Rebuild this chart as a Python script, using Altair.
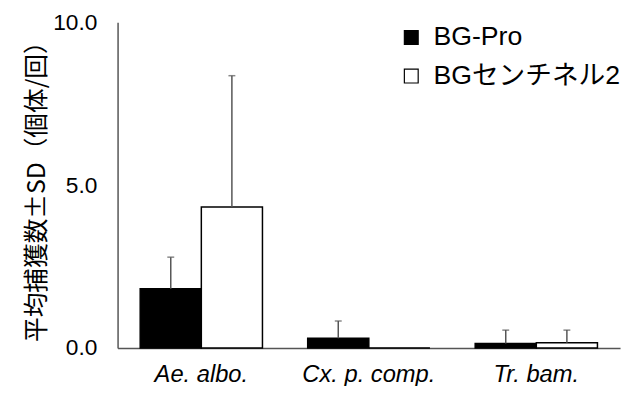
import altair as alt
import pandas as pd

species = ["Ae. albo.", "Cx. p. comp.", "Tr. bam."]
traps = ["BG-Pro", "BGセンチネル2"]
means_pro = [1.82, 0.30, 0.14]
sd_pro = [0.97, 0.53, 0.41]
means_sen = [4.33, 0.0, 0.16]
sd_sen = [4.03, 0.0, 0.39]

rows = []
for i, s in enumerate(species):
    rows.append({"species": s, "trap": traps[0], "mean": means_pro[i], "upper": means_pro[i] + sd_pro[i], "hasErr": sd_pro[i] > 0})
    rows.append({"species": s, "trap": traps[1], "mean": means_sen[i], "upper": means_sen[i] + sd_sen[i], "hasErr": sd_sen[i] > 0})
df = pd.DataFrame(rows)

FONT = "Liberation Sans, Noto Sans CJK JP"

x = alt.X("species:N", sort=species, title=None,
          scale=alt.Scale(paddingInner=0, paddingOuter=0),
          axis=alt.Axis(labelAngle=0, labelFontSize=24, labelFontStyle="italic", labelColor="black",
                        labelFont=FONT, ticks=False, labelPadding=15, domainColor="#555", domainWidth=1.5))
xo = alt.XOffset("trap:N", sort=traps, scale=alt.Scale(paddingOuter=0.37, paddingInner=0))

base = alt.Chart(df)

bars = base.mark_bar(stroke="black", strokeWidth=1.5).encode(
    x=x,
    xOffset=xo,
    y=alt.Y("mean:Q", scale=alt.Scale(domain=[0, 10]), title="平均捕獲数±SD（個体/回）",
            axis=alt.Axis(values=[0, 5, 10], format=".1f", labelFontSize=23, labelColor="black",
                          labelFont=FONT, ticks=False, labelPadding=21, grid=False,
                          domainColor="#555", domainWidth=1.5,
                          titleFont="Noto Sans CJK JP", titleFontSize=25, titleFontWeight="normal",
                          titleColor="black", titlePadding=3)),
    fill=alt.Fill("trap:N", sort=traps, scale=alt.Scale(domain=traps, range=["black", "white"]),
                  legend=alt.Legend(title=None, orient="none", legendX=284, legendY=2,
                                    symbolType="square", symbolSize=196, symbolStrokeColor="black",
                                    symbolStrokeWidth=1.2, labelFontSize=27, labelFont=FONT,
                                    labelColor="black", rowPadding=11, labelOffset=9, labelLimit=400)),
)

err = base.transform_filter("datum.hasErr").mark_rule(color="#555", strokeWidth=1.5).encode(
    x=x, xOffset=xo, y="mean:Q", y2="upper:Q")

cap = base.transform_filter("datum.hasErr").mark_tick(color="#555", thickness=1.5, size=7, orient="horizontal").encode(
    x=x, xOffset=xo, y="upper:Q")

chart = (bars + err + cap).properties(
    width=509, height=330,
    autosize=alt.AutoSizeParams(type="none"),
    padding={"left": 111, "top": 12, "right": 5, "bottom": 36},
).configure_view(stroke=None).configure_axis(grid=False)

chart.save("out.html", embed_options={"renderer": "svg", "actions": False})
